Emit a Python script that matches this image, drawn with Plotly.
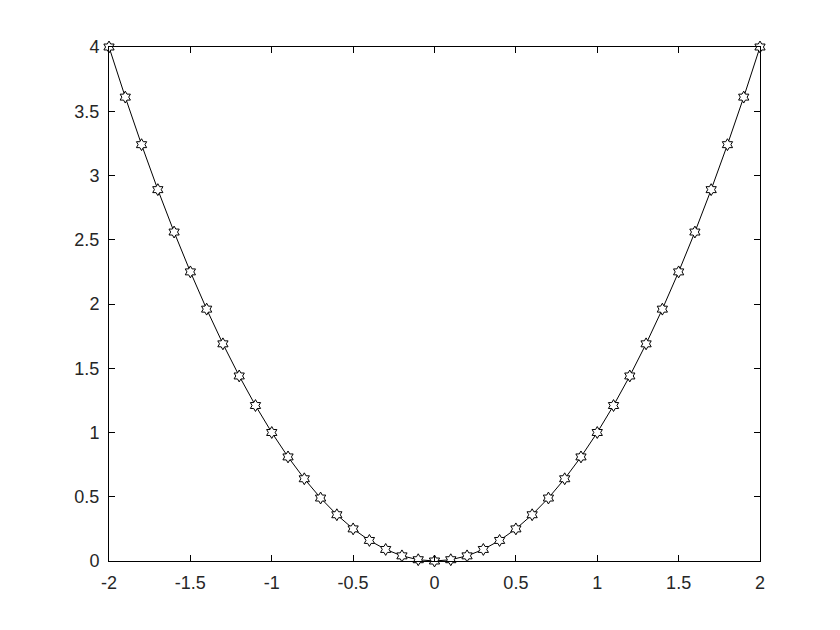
import plotly.graph_objects as go

x_vals = [-2.0, -1.9, -1.8, -1.7, -1.6, -1.5, -1.4, -1.3, -1.2, -1.1, -1.0,
          -0.9, -0.8, -0.7, -0.6, -0.5, -0.4, -0.3, -0.2, -0.1, 0.0,
          0.1, 0.2, 0.3, 0.4, 0.5, 0.6, 0.7, 0.8, 0.9, 1.0,
          1.1, 1.2, 1.3, 1.4, 1.5, 1.6, 1.7, 1.8, 1.9, 2.0]
y_vals = [4.0, 3.61, 3.24, 2.89, 2.56, 2.25, 1.96, 1.69, 1.44, 1.21, 1.0,
          0.81, 0.64, 0.49, 0.36, 0.25, 0.16, 0.09, 0.04, 0.01, 0.0,
          0.01, 0.04, 0.09, 0.16, 0.25, 0.36, 0.49, 0.64, 0.81, 1.0,
          1.21, 1.44, 1.69, 1.96, 2.25, 2.56, 2.89, 3.24, 3.61, 4.0]
x_ticks = [-2, -1.5, -1, -0.5, 0, 0.5, 1, 1.5, 2]
x_tick_labels = ["-2", "-1.5", "-1", "-0.5", "0", "0.5", "1", "1.5", "2"]
y_ticks = [0, 0.5, 1, 1.5, 2, 2.5, 3, 3.5, 4]
y_tick_labels = ["0", "0.5", "1", "1.5", "2", "2.5", "3", "3.5", "4"]

fig = go.Figure()
fig.add_trace(go.Scatter(
    x=x_vals, y=y_vals, mode="lines+markers",
    line=dict(color="black", width=1),
    marker=dict(symbol="hexagram", size=9, color="white",
                line=dict(color="black", width=1)),
    cliponaxis=False, showlegend=False,
))

axis_common = dict(
    showgrid=False, zeroline=False, showline=True, linecolor="black",
    linewidth=1, mirror="allticks", ticks="inside", ticklen=6,
    tickcolor="black", ticklabelstandoff=5,
    tickfont=dict(family="Liberation Sans, Arial", size=18, color="#262626"),
)
fig.update_xaxes(range=[-2, 2], tickvals=x_ticks, ticktext=x_tick_labels, **axis_common)
fig.update_yaxes(range=[0, 4], tickvals=y_ticks, ticktext=y_tick_labels, **axis_common)

fig.update_layout(
    width=840, height=630,
    margin=dict(l=101, r=88, t=39, b=77),
    plot_bgcolor="white", paper_bgcolor="white",
)
fig.write_html("out.html")
